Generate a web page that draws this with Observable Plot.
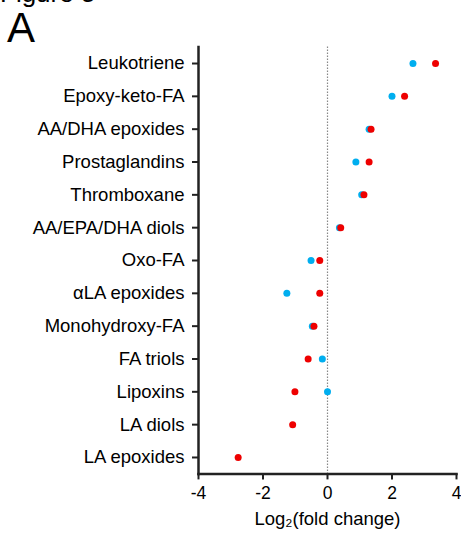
<!DOCTYPE html>
<html>
<head>
<meta charset="utf-8">
<script src="https://cdn.jsdelivr.net/npm/d3@7"></script>
<script src="https://cdn.jsdelivr.net/npm/@observablehq/plot@0.6"></script>
<style>
  body { margin: 0; background: #fff; font-family: "Liberation Sans", Arial, sans-serif; }
  #wrap { position: relative; width: 461px; height: 539px; overflow: hidden; }
  #fig { position: absolute; left: 0px; top: -22px; font-size: 26px; color: #000; }
  #panel { position: absolute; left: 7px; top: 4px; font-size: 42px; color: #000; }
  #chart { position: absolute; left: 0; top: 0; }
</style>
</head>
<body>
<div id="wrap">
  <div id="chart"></div>
  <div id="fig">Figure 5</div>
  <div id="panel">A</div>
</div>
<script>
const categories = ["Leukotriene", "Epoxy-keto-FA", "AA/DHA epoxides", "Prostaglandins", "Thromboxane",
  "AA/EPA/DHA diols", "Oxo-FA", "αLA epoxides", "Monohydroxy-FA", "FA triols", "Lipoxins", "LA diols", "LA epoxides"];
const blueValues = [2.65, 2.0, 1.29, 0.88, 1.06, 0.37, -0.51, -1.26, -0.47, -0.16, 0.0, null, null];
const redValues = [3.35, 2.39, 1.35, 1.29, 1.13, 0.41, -0.24, -0.24, -0.42, -0.6, -1.01, -1.08, -2.77];
const xTicks = [-4, -2, 0, 2, 4];
const xLabel = "Log₂(fold change)";

const blue = categories.map((c, i) => ({cat: c, v: blueValues[i]})).filter(d => d.v != null);
const red = categories.map((c, i) => ({cat: c, v: redValues[i]})).filter(d => d.v != null);

const chart = Plot.plot({
  width: 461,
  height: 539,
  marginLeft: 198,
  marginRight: 5,
  marginTop: 46.6,
  marginBottom: 65.6,
  style: {fontFamily: "Liberation Sans, Arial, sans-serif", fontSize: "18px", color: "#000", background: "#fff"},
  x: {domain: [-4, 4], ticks: xTicks},
  y: {domain: categories, type: "point", padding: 0.5, round: false},
  marks: [
    Plot.ruleX([0], {stroke: "#888", strokeWidth: 1.2, strokeDasharray: "1.5,1.5"}),
    Plot.axisY({tickSize: 6, tickPadding: 8, fontSize: 18.5, stroke: "#222", strokeWidth: 2, label: null}),
    Plot.axisX({ticks: xTicks, tickSize: 6, tickPadding: 7, fontSize: 17.5, stroke: "#222", strokeWidth: 2,
      tickFormat: d => d < 0 ? "-" + Math.abs(d) : String(d), label: null}),
    Plot.text([xLabel], {frameAnchor: "bottom", lineAnchor: "middle", dy: 45, fontSize: 18.5, fill: "#000"}),
    Plot.frame({anchor: "left", stroke: "#222", strokeWidth: 2.5}),
    Plot.frame({anchor: "bottom", stroke: "#222", strokeWidth: 2.5}),
    Plot.dot(blue, {x: "v", y: "cat", r: 3.5, fill: "#00aeef"}),
    Plot.dot(red, {x: "v", y: "cat", r: 3.5, fill: "#ee0000"})
  ]
});
document.getElementById("chart").append(chart);
</script>
</body>
</html>
